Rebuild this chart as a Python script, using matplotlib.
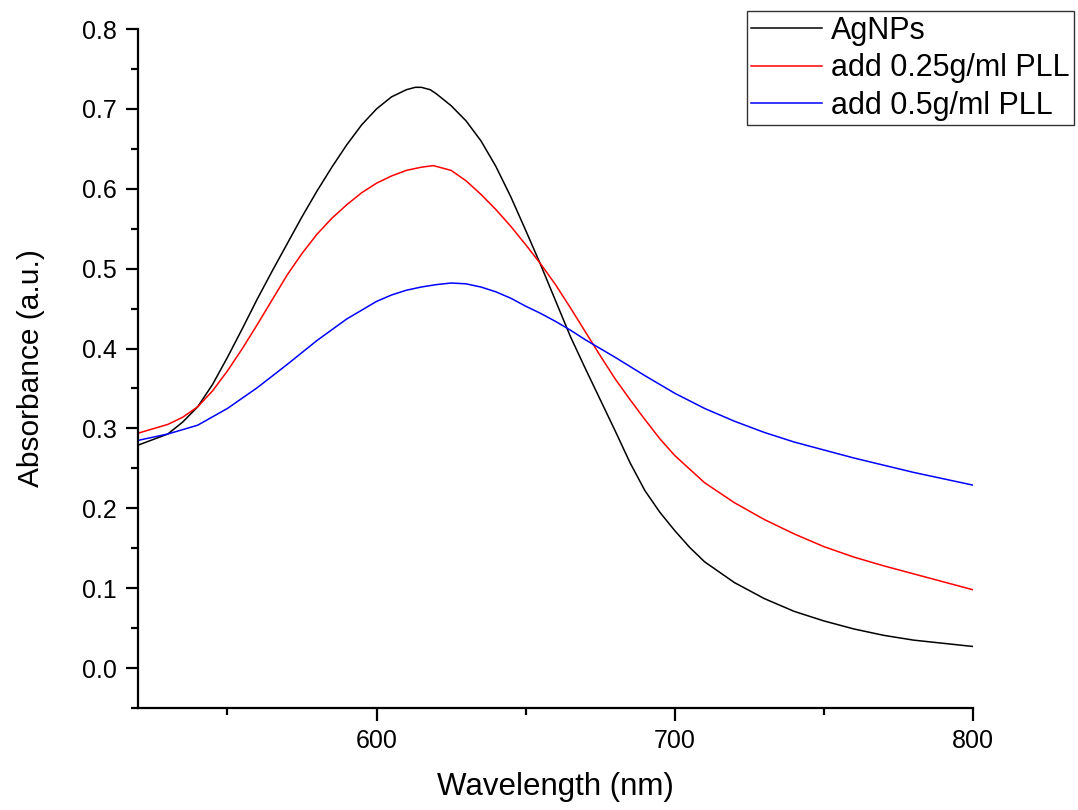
import matplotlib
matplotlib.use("Agg")
import matplotlib.pyplot as plt
from matplotlib.ticker import MultipleLocator, FormatStrFormatter

plt.rcParams['font.family'] = ['Liberation Sans', 'DejaVu Sans']

# AgNPs (black)
wl_ag = [520, 530, 535, 540, 545, 550, 555, 560, 565, 570, 575, 580, 585, 590,
         595, 600, 605, 610, 613, 615, 618, 620, 625, 630, 635, 640, 645, 650,
         655, 660, 665, 670, 675, 680, 685, 690, 695, 700, 705, 710, 720, 730,
         740, 750, 760, 770, 780, 790, 800]
abs_ag = [0.279, 0.293, 0.308, 0.327, 0.355, 0.389, 0.425, 0.462, 0.497, 0.531,
          0.565, 0.597, 0.627, 0.655, 0.680, 0.700, 0.715, 0.724, 0.727, 0.727,
          0.724, 0.719, 0.704, 0.685, 0.660, 0.628, 0.590, 0.548, 0.505, 0.460,
          0.415, 0.375, 0.336, 0.297, 0.257, 0.222, 0.195, 0.172, 0.151, 0.133,
          0.107, 0.087, 0.071, 0.059, 0.049, 0.041, 0.035, 0.031, 0.027]

# add 0.25g/ml PLL (red)
wl_025 = [520, 530, 535, 540, 545, 550, 555, 560, 565, 570, 575, 580, 585, 590,
          595, 600, 605, 610, 615, 619, 625, 630, 635, 640, 645, 650, 655, 660,
          665, 670, 675, 680, 685, 690, 695, 700, 710, 720, 730, 740, 750, 760,
          770, 780, 790, 800]
abs_025 = [0.294, 0.305, 0.314, 0.327, 0.347, 0.372, 0.400, 0.430, 0.461, 0.492,
           0.519, 0.543, 0.563, 0.580, 0.595, 0.607, 0.616, 0.623, 0.627, 0.629,
           0.623, 0.610, 0.593, 0.574, 0.553, 0.530, 0.506, 0.480, 0.451, 0.421,
           0.391, 0.362, 0.336, 0.311, 0.287, 0.266, 0.232, 0.207, 0.186, 0.168,
           0.152, 0.139, 0.128, 0.118, 0.108, 0.098]

# add 0.5g/ml PLL (blue)
wl_05 = [520, 530, 540, 550, 560, 570, 580, 590, 600, 605, 610, 615, 620, 625,
         630, 635, 640, 645, 650, 655, 660, 665, 670, 680, 690, 700, 710, 720,
         730, 740, 750, 760, 770, 780, 790, 800]
abs_05 = [0.285, 0.293, 0.304, 0.325, 0.351, 0.380, 0.410, 0.437, 0.459, 0.467,
          0.473, 0.477, 0.480, 0.482, 0.481, 0.477, 0.471, 0.463, 0.453, 0.444,
          0.434, 0.423, 0.411, 0.389, 0.366, 0.344, 0.325, 0.309, 0.295, 0.283,
          0.273, 0.263, 0.254, 0.245, 0.237, 0.229]

labels = ["AgNPs", "add 0.25g/ml PLL", "add 0.5g/ml PLL"]

fig = plt.figure(figsize=(10.78, 8.10), dpi=100)
ax = fig.add_axes([138 / 1078, 1 - 708 / 810, (973 - 138) / 1078, (708 - 29) / 810])

ax.plot(wl_ag, abs_ag, color="black", lw=1.1, label=labels[0])
ax.plot(wl_025, abs_025, color="red", lw=1.1, label=labels[1])
ax.plot(wl_05, abs_05, color="blue", lw=1.1, label=labels[2])

ax.set_xlim(520, 800)
ax.set_ylim(-0.05, 0.8)
ax.spines["top"].set_visible(False)
ax.spines["right"].set_visible(False)
for s in ("left", "bottom"):
    ax.spines[s].set_linewidth(1.6)

ax.xaxis.set_major_locator(MultipleLocator(100))
ax.xaxis.set_minor_locator(MultipleLocator(50))
ax.yaxis.set_major_locator(MultipleLocator(0.1))
ax.yaxis.set_minor_locator(MultipleLocator(0.05))
ax.yaxis.set_major_formatter(FormatStrFormatter("%.1f"))
ax.tick_params(which="major", direction="out", length=9, width=1.6, labelsize=18, pad=6)
ax.tick_params(which="minor", direction="out", length=5, width=1.6)

ax.set_xlabel("Wavelength (nm)", fontsize=22.5, labelpad=14)
ax.set_ylabel("Absorbance (a.u.)", fontsize=21.5, labelpad=27)

leg = ax.legend(loc="upper right", bbox_to_anchor=(1074 / 1078, 1 - 11 / 810),
                bbox_transform=fig.transFigure, borderaxespad=0, fontsize=22,
                fancybox=False, frameon=True, handlelength=2.3, handletextpad=0.3,
                borderpad=0.15, labelspacing=0.25)
leg.get_frame().set_edgecolor("black")
leg.get_frame().set_linewidth(1.0)

fig.savefig("out.png", dpi=100)
